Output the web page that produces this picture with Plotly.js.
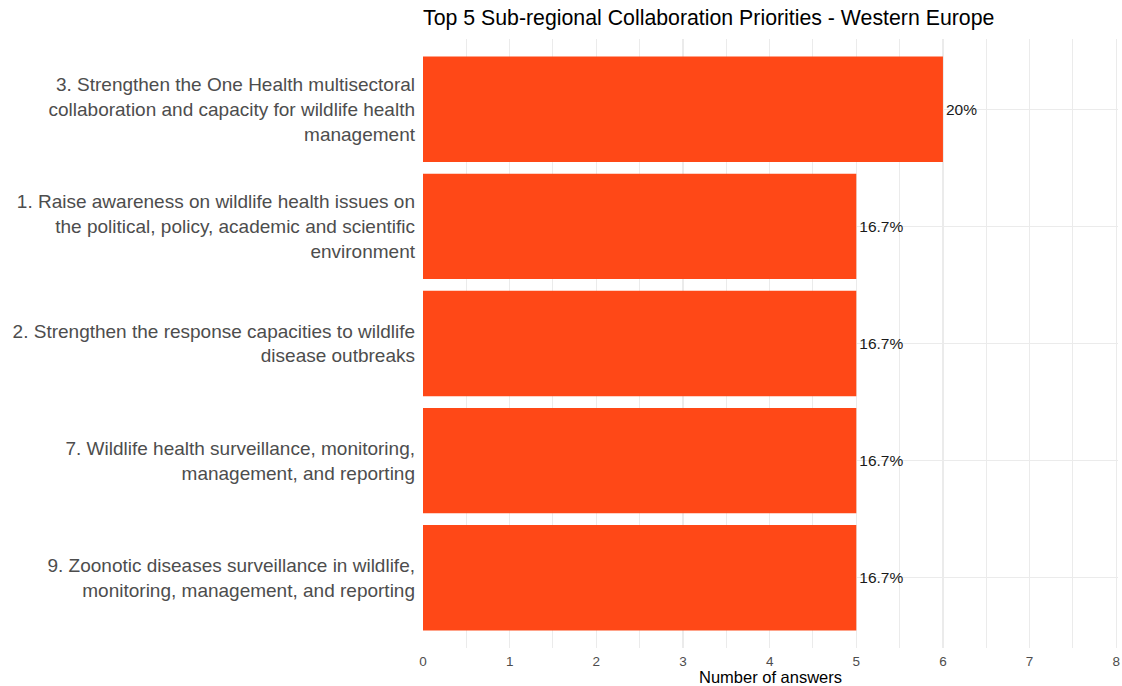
<!DOCTYPE html>
<html>
<head>
<meta charset="utf-8">
<script src="https://cdn.plot.ly/plotly-3.0.1.min.js"></script>
<style>html,body{margin:0;padding:0;background:#fff;}#chart{width:1122px;height:686px;}</style>
</head>
<body>
<div id="chart"></div>
<script>
const categories = [
  "3. Strengthen the One Health multisectoral<br>collaboration and capacity for wildlife health<br>management",
  "1. Raise awareness on wildlife health issues on<br>the political, policy, academic and scientific<br>environment",
  "2. Strengthen the response capacities to wildlife<br>disease outbreaks",
  "7. Wildlife health surveillance, monitoring,<br>management, and reporting",
  "9. Zoonotic diseases surveillance in wildlife,<br>monitoring, management, and reporting"
];
const answers = [6, 5, 5, 5, 5];
const pctLabels = ["20%", "16.7%", "16.7%", "16.7%", "16.7%"];
const xTicks = [0, 1, 2, 3, 4, 5, 6, 7, 8];

const FONT = "Liberation Sans, Arial, Helvetica, sans-serif";

Plotly.newPlot("chart", [{
  type: "bar",
  orientation: "h",
  y: categories,
  x: answers,
  text: pctLabels,
  textposition: "outside",
  cliponaxis: false,
  textfont: {family: FONT, size: 15.5, color: "#1a1a1a"},
  marker: {color: "#FF4817", line: {width: 0}},
  width: 0.9,
  hoverinfo: "none"
}], {
  width: 1122,
  height: 686,
  margin: {l: 423, r: 4, t: 39, b: 38, pad: 0},
  paper_bgcolor: "#ffffff",
  plot_bgcolor: "#ffffff",
  font: {family: FONT},
  showlegend: false,
  title: {
    text: "Top 5 Sub-regional Collaboration Priorities - Western Europe",
    font: {family: FONT, size: 21.3, color: "#000000"},
    x: 0, xref: "paper", xanchor: "left",
    y: 1 - 18 / 686, yref: "container", yanchor: "middle"
  },
  xaxis: {
    range: [0, 8.02],
    autorange: false,
    automargin: false,
    tickvals: xTicks,
    ticktext: xTicks.map(String),
    showgrid: true,
    gridcolor: "#EBEBEB",
    gridwidth: 1.2,
    zeroline: false,
    showline: false,
    ticks: "",
    ticklabelstandoff: 3,
    tickfont: {family: FONT, size: 13.5, color: "#4D4D4D"},
    minor: {dtick: 0.5, tick0: 0, showgrid: true, gridcolor: "#EBEBEB", gridwidth: 1},
    title: {text: "Number of answers", font: {family: FONT, size: 16.5, color: "#000000"}, standoff: 6},
    fixedrange: true
  },
  yaxis: {
    type: "category",
    categoryorder: "array",
    categoryarray: categories,
    autorange: false,
    range: [4.6, -0.6],
    showgrid: true,
    gridcolor: "#EBEBEB",
    gridwidth: 1.2,
    zeroline: false,
    showline: false,
    ticks: "",
    ticklabelstandoff: 7,
    tickfont: {family: FONT, size: 19, color: "#4D4D4D"},
    fixedrange: true
  },
  bargap: 0.1
}, {displayModeBar: false, staticPlot: true});
</script>
</body>
</html>
